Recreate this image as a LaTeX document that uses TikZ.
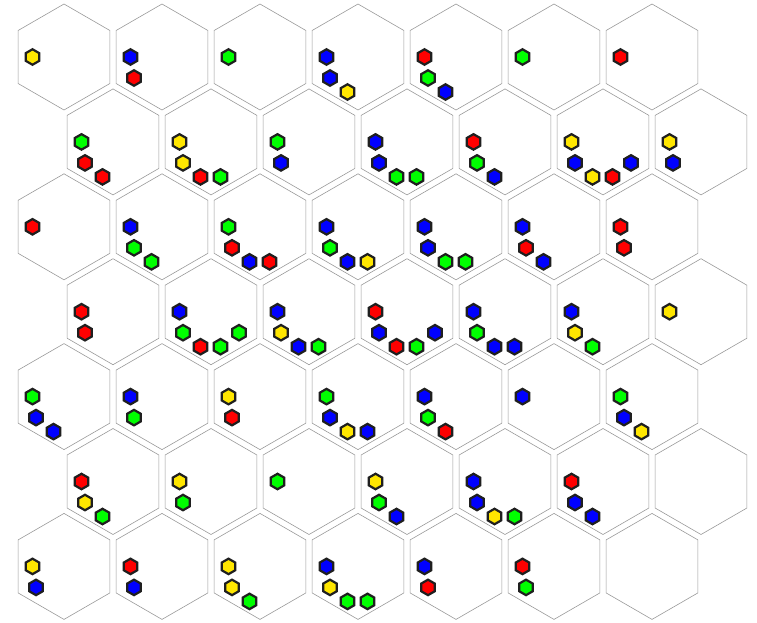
\documentclass[tikz,border=0pt]{standalone}
\usetikzlibrary{shapes.geometric,calc}

\begin{document}
\begin{tikzpicture}[
  x=1pt,y=-1pt,
  cell/.style={regular polygon,regular polygon sides=6,shape border rotate=30,
               minimum size=106pt,inner sep=0pt,draw=black!40,line width=0.6pt},
  stone/.style={regular polygon,regular polygon sides=6,shape border rotate=30,
                minimum size=15.5pt,inner sep=0pt,draw=black!88,line width=2.2pt},
]
\definecolor{tokY}{HTML}{FFE600}
\definecolor{tokB}{HTML}{0000FF}
\definecolor{tokR}{HTML}{FF0000}
\definecolor{tokG}{HTML}{00FF00}

\useasboundingbox (0,0) rectangle (757,622);

% Offset hexagonal board, 7 rows of 7 cells.
\foreach \r in {0,...,6}
  \foreach \c in {0,...,6}{
    \pgfmathsetmacro\cx{64+98*\c+49*mod(\r,2)}
    \pgfmathsetmacro\cy{57+84.9*\r}
    \node[cell] (cell-\r-\c) at (\cx,\cy) {};
  }

% Stones in each cell, laid out along the lower left of the cell.
\foreach \r/\c/\pieces in {
  0/0/{Y},0/1/{B,R},0/2/{G},0/3/{B,B,Y},0/4/{R,G,B},0/5/{G},0/6/{R},
  1/0/{G,R,R},1/1/{Y,Y,R,G},1/2/{G,B},1/3/{B,B,G,G},1/4/{R,G,B},
  1/5/{Y,B,Y,R,B},1/6/{Y,B},
  2/0/{R},2/1/{B,G,G},2/2/{G,R,B,R},2/3/{B,G,B,Y},2/4/{B,B,G,G},
  2/5/{B,R,B},2/6/{R,R},
  3/0/{R,R},3/1/{B,G,R,G,G},3/2/{B,Y,B,G},3/3/{R,B,R,G,B},3/4/{B,G,B,B},
  3/5/{B,Y,G},3/6/{Y},
  4/0/{G,B,B},4/1/{B,G},4/2/{Y,R},4/3/{G,B,Y,B},4/4/{B,G,R},4/5/{B},
  4/6/{G,B,Y},
  5/0/{R,Y,G},5/1/{Y,G},5/2/{G},5/3/{Y,G,B},5/4/{B,B,Y,G},5/5/{R,B,B},
  6/0/{Y,B},6/1/{R,B},6/2/{Y,Y,G},6/3/{B,Y,G,G},6/4/{B,R},6/5/{R,G}}
  \foreach \t [count=\k] in \pieces {
    \pgfmathsetmacro\dx{{-31.5,-28,-10.5,9.5,28}[\k-1]}
    \pgfmathsetmacro\dy{{0,21,35,35,21}[\k-1]}
    \node[stone,fill=tok\t] (s-\r-\c-\k) at ($(cell-\r-\c)+(\dx,\dy)$) {};
  }
\end{tikzpicture}
\end{document}
